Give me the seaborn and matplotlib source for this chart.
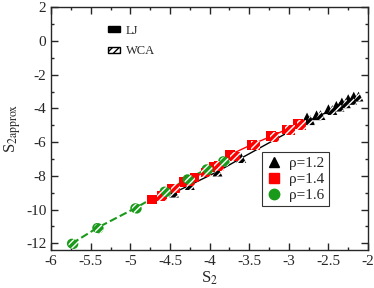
import numpy as np
import pandas as pd
import matplotlib
matplotlib.use("Agg")
import matplotlib.pyplot as plt
import seaborn as sns
from matplotlib.patches import Patch
from matplotlib.lines import Line2D
from matplotlib.ticker import MultipleLocator

# ---- data ----
lj12_x = [-2.77, -2.65, -2.50, -2.40, -2.33, -2.25, -2.18]
lj12_y = [-4.54, -4.41, -4.05, -3.85, -3.65, -3.45, -3.30]
wca12_x = [-4.45, -4.25, -3.90, -3.60, -2.73, -2.60, -2.45, -2.36, -2.28, -2.20, -2.12]
wca12_y = [-9.00, -8.55, -7.75, -6.95, -4.70, -4.40, -4.10, -3.90, -3.70, -3.50, -3.30]

lj14_x = [-4.73, -4.48, -4.33, -4.19, -3.95, -3.74, -3.47, -3.22, -3.03, -2.88]
lj14_y = [-9.41, -8.80, -8.36, -8.10, -7.47, -6.75, -6.15, -5.65, -5.25, -4.92]
wca14_x = [-4.60, -4.43, -4.25, -4.05, -3.88, -3.68, -3.42, -3.18, -2.98, -2.84]
wca14_y = [-9.20, -8.75, -8.30, -7.80, -7.40, -6.85, -6.20, -5.70, -5.30, -5.00]

lj16_x = [-5.74, -5.42, -4.94, -4.57, -4.28, -4.04, -3.83]
lj16_y = [-12.02, -11.09, -9.92, -8.93, -8.20, -7.61, -7.13]
wca16_x = [-5.72, -5.40, -4.92, -4.55, -4.26, -4.02, -3.81]
wca16_y = [-12.05, -11.12, -9.95, -8.97, -8.24, -7.65, -7.17]

rho_labels = ["ρ=1.2", "ρ=1.4", "ρ=1.6"]
colors = ["black", "#ff0000", "#1a9a1a"]
markers = ["^", "s", "o"]

xticks = [-6, -5.5, -5, -4.5, -4, -3.5, -3, -2.5, -2]
yticks = [-12, -10, -8, -6, -4, -2, 0, 2]

frames = []
for lab, lx, ly, wx, wy in [
    (rho_labels[0], lj12_x, lj12_y, wca12_x, wca12_y),
    (rho_labels[1], lj14_x, lj14_y, wca14_x, wca14_y),
    (rho_labels[2], lj16_x, lj16_y, wca16_x, wca16_y),
]:
    frames.append(pd.DataFrame({"S2": lx, "S2approx": ly, "rho": lab, "model": "LJ"}))
    frames.append(pd.DataFrame({"S2": wx, "S2approx": wy, "rho": lab, "model": "WCA"}))
df = pd.concat(frames, ignore_index=True)

sns.set_style("ticks")
plt.rcParams["font.family"] = ["Liberation Serif", "DejaVu Serif"]
plt.rcParams["hatch.linewidth"] = 1.0
plt.rcParams["mathtext.fontset"] = "stix"

fig, ax = plt.subplots(figsize=(3.74, 2.88), dpi=100)
fig.subplots_adjust(left=0.137, right=0.984, top=0.975, bottom=0.132)

# lines
line_styles = ["-", "-", "--"]
line_src = ["WCA", "LJ", "LJ"]
for lab, c, ls, src in zip(rho_labels, colors, line_styles, line_src):
    sub = df[(df.rho == lab) & (df.model == src)].sort_values("S2")
    sns.lineplot(data=sub, x="S2", y="S2approx", color=c, linestyle=ls,
                 lw=1.5 if ls == "--" else 1.0, ax=ax, legend=False,
                 estimator=None, sort=True, zorder=2)

# markers
for lab, c, m in zip(rho_labels, colors, markers):
    sub = df[(df.rho == lab) & (df.model == "LJ")]
    sns.scatterplot(data=sub, x="S2", y="S2approx", color=c, marker=m, s=50,
                    edgecolor="none", ax=ax, legend=False, zorder=3)
    sub = df[(df.rho == lab) & (df.model == "WCA")]
    sns.scatterplot(data=sub, x="S2", y="S2approx", color=c, marker=m, s=50,
                    edgecolor="white", linewidth=0, hatch="/////", ax=ax,
                    legend=False, zorder=4)

ax.set_xlim(-6, -2)
ax.set_ylim(-12.4, 2)
ax.set_xticks(xticks)
ax.set_xticklabels([f"{t:g}" for t in xticks])
ax.set_yticks(yticks)
ax.set_yticklabels([f"{t:g}" for t in yticks])
ax.xaxis.set_minor_locator(MultipleLocator(0.25))
ax.yaxis.set_minor_locator(MultipleLocator(1))
ax.tick_params(which="both", direction="in", top=True, right=True, labelsize=11)
ax.tick_params(which="major", length=5, width=1)
ax.tick_params(which="minor", length=2.5, width=1)
for s in ax.spines.values():
    s.set_linewidth(1)
ax.set_xlabel("S$_2$", fontsize=12, labelpad=1)
ax.set_ylabel("S$_{2\\mathrm{approx}}$", fontsize=12, labelpad=2)

# density legend
handles = [Line2D([], [], color=c, marker=m, linestyle="none", markersize=7.5)
           for c, m in zip(colors, markers)]
leg1 = ax.legend(handles, rho_labels, loc="upper left", bbox_to_anchor=(0.664, 0.405),
                 frameon=True, fancybox=False, edgecolor="black", fontsize=11,
                 handlelength=1.0, handletextpad=0.5, borderpad=0.3,
                 labelspacing=0.15, borderaxespad=0)
leg1.get_frame().set_linewidth(0.8)
ax.add_artist(leg1)

# model legend
mh = [Patch(facecolor="black", edgecolor="black"),
      Patch(facecolor="white", edgecolor="black", hatch="/////")]
ax.legend(mh, ["LJ", "WCA"], loc="upper left", bbox_to_anchor=(0.145, 0.975),
          frameon=False, fontsize=9, handlelength=0.9, handleheight=0.4,
          handletextpad=0.5, labelspacing=0.7)

fig.savefig("out.png", dpi=100)
